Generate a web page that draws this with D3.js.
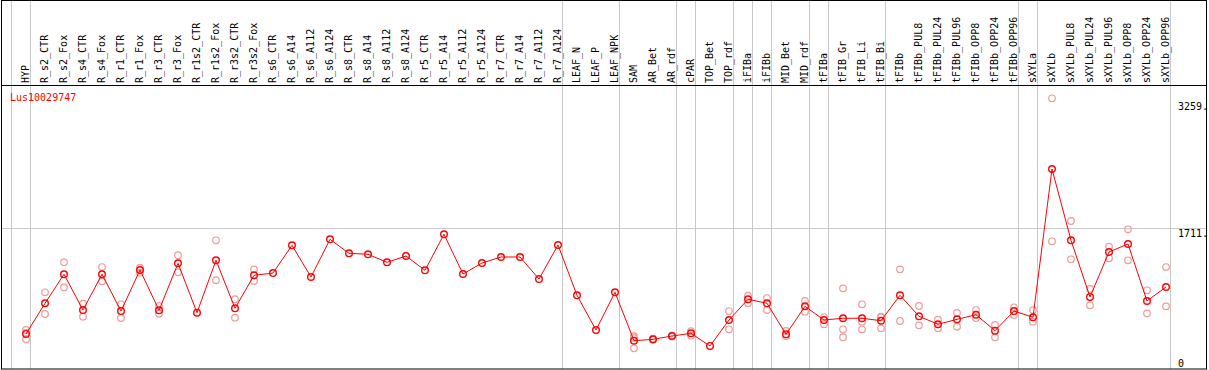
<!DOCTYPE html>
<html>
<head>
<meta charset="utf-8">
<script src="https://cdn.jsdelivr.net/npm/d3@7"></script>
<style>
  body { margin: 0; background: #fff; }
  text { font-family: "DejaVu Sans Mono", monospace; font-size: 10px; }
</style>
</head>
<body>
<div id="chart"></div>
<script>
var width = 1209,
    height = 370;

var geneName = "Lus10029747";

// sample groups (a grey separator is drawn before each group)
var groups = [
    ["HYP"],
    ["R_s2_CTR", "R_s2_Fox", "R_s4_CTR", "R_s4_Fox", "R_r1_CTR", "R_r1_Fox", "R_r3_CTR", "R_r3_Fox",
     "R_r1s2_CTR", "R_r1s2_Fox", "R_r3s2_CTR", "R_r3s2_Fox", "R_s6_CTR", "R_s6_A14", "R_s6_A112", "R_s6_A124",
     "R_s8_CTR", "R_s8_A14", "R_s8_A112", "R_s8_A124", "R_r5_CTR", "R_r5_A14", "R_r5_A112", "R_r5_A124",
     "R_r7_CTR", "R_r7_A14", "R_r7_A112", "R_r7_A124"],
    ["LEAF_N", "LEAF_P", "LEAF_NPK"],
    ["SAM", "AR_Bet", "AR_rdf"],
    ["cPAR"],
    ["TOP_Bet", "TOP_rdf"],
    ["iFIBa"],
    ["iFIBb"],
    ["MID_Bet", "MID_rdf"],
    ["tFIBa"],
    ["tFIB_Gr", "tFIB_Li", "tFIB_Bi"],
    ["tFIBb", "tFIBb_PUL8", "tFIBb_PUL24", "tFIBb_PUL96", "tFIBb_OPP8", "tFIBb_OPP24", "tFIBb_OPP96"],
    ["sXYLa"],
    ["sXYLb", "sXYLb_PUL8", "sXYLb_PUL24", "sXYLb_PUL96", "sXYLb_OPP8", "sXYLb_OPP24", "sXYLb_OPP96"]
];

var categories = [].concat.apply([], groups);

// mean expression per sample
var means = [
    426, 799, 1152, 717, 1152, 705, 1204, 714, 1285, 685, 1322, 738, 1139,
    1167, 1504, 1119, 1577, 1407, 1395, 1297, 1374, 1200, 1638, 1155, 1289,
    1362, 1362, 1094, 1508,
    896, 474, 933,
    344, 361, 401,
    434,
    280, 596,
    848,
    799,
    422, 762,
    596,
    617, 617, 587,
    896, 641, 544, 604, 660, 466, 705,
    629,
    2432, 1565, 876, 1423, 1520, 827, 997
];

// replicate values per sample
var reps = [
    [474, 440, 361], [933, 669], [1297, 993], [794, 636], [1240, 1066], [787, 620], [1232, 1171],
    [766, 672], [1383, 1176], [], [1565, 1079], [848, 624], [1212, 1070],
    [], [], [], [], [], [], [], [], [], [], [], [], [], [], [], [],
    [], [], [],
    [400, 378, 252], [370, 355], [405, 397],
    [405, 460],
    [], [705, 483],
    [891, 799],
    [863, 717],
    [401, 462], [827, 697],
    [632, 544],
    [981, 483, 386], [787, 575, 483], [636, 630, 495],
    [1212, 584], [766, 531], [599, 495], [681, 514], [717, 620], [535, 385], [750, 657],
    [717, 575],
    [3292, 1553], [1800, 1334], [973, 775], [1487, 1346], [1699, 1322], [957, 677], [1240, 762]
];

var yTicks = [0, 1711, 3259];
var yTickLabels = ["0", "1711.", "3259."];

var x = d3.scaleBand().domain(categories).range([11, 11 + 19 * categories.length]).padding(0);
var y = d3.scaleLinear().domain([0, 3259]).range([369, 101]);

function px(d) { return x(d) + 15; }

var svg = d3.select("#chart").append("svg")
    .attr("width", width)
    .attr("height", height);

svg.append("rect").attr("width", width).attr("height", height).attr("fill", "#fff");

// group separators
var sepX = groups.map(function (g) { return x(g[0]); });
sepX.push(x.range()[1]);
svg.selectAll("line.sep")
    .data(sepX)
    .enter().append("line")
    .attr("class", "sep")
    .attr("x1", function (d) { return d + 0.5; })
    .attr("x2", function (d) { return d + 0.5; })
    .attr("y1", 0)
    .attr("y2", 369)
    .attr("stroke", "#c8c8c8");

// middle grid line
svg.append("line")
    .attr("x1", 1).attr("x2", 1207)
    .attr("y1", Math.round(y(1711)) + 0.5).attr("y2", Math.round(y(1711)) + 0.5)
    .attr("stroke", "#c8c8c8");

// frame
svg.append("rect")
    .attr("x", 1.5).attr("y", 0.5)
    .attr("width", 1205).attr("height", 368.5)
    .attr("fill", "none").attr("stroke", "#000");
svg.append("line")
    .attr("x1", 1).attr("x2", 1207).attr("y1", 85.5).attr("y2", 85.5)
    .attr("stroke", "#000");

// sample labels
svg.selectAll("text.cat")
    .data(categories)
    .enter().append("text")
    .attr("class", "cat")
    .attr("transform", function (d) { return "translate(" + (px(d) + 3) + ",83) rotate(-90)"; })
    .attr("fill", "#000")
    .text(function (d) { return d; });

// y labels
svg.selectAll("text.ylab")
    .data(yTicks)
    .enter().append("text")
    .attr("class", "ylab")
    .attr("x", 1178)
    .attr("y", function (d, i) { return d === 0 ? 366.5 : y(d) + 9; })
    .attr("fill", "#000")
    .text(function (d, i) { return yTickLabels[i]; });

svg.append("text")
    .attr("x", 10).attr("y", 100.5)
    .attr("fill", "red")
    .text(geneName);

// replicate points
var repPoints = [];
categories.forEach(function (c, i) {
    reps[i].forEach(function (v) { repPoints.push({ c: c, v: v }); });
});
svg.selectAll("circle.rep")
    .data(repPoints)
    .enter().append("circle")
    .attr("class", "rep")
    .attr("cx", function (d) { return px(d.c); })
    .attr("cy", function (d) { return y(d.v); })
    .attr("r", 3.3)
    .attr("fill", "none")
    .attr("stroke", "#f09a9a")
    .attr("stroke-width", 1.2);

var line = d3.line()
    .x(function (d, i) { return px(categories[i]); })
    .y(function (d) { return y(d); });

svg.append("path")
    .datum(means)
    .attr("d", line)
    .attr("fill", "none")
    .attr("stroke", "red")
    .attr("stroke-width", 1);

svg.selectAll("circle.mean")
    .data(means)
    .enter().append("circle")
    .attr("class", "mean")
    .attr("cx", function (d, i) { return px(categories[i]); })
    .attr("cy", function (d) { return y(d); })
    .attr("r", 3.3)
    .attr("fill", "none")
    .attr("stroke", "red")
    .attr("stroke-width", 1.4);
</script>
</body>
</html>
